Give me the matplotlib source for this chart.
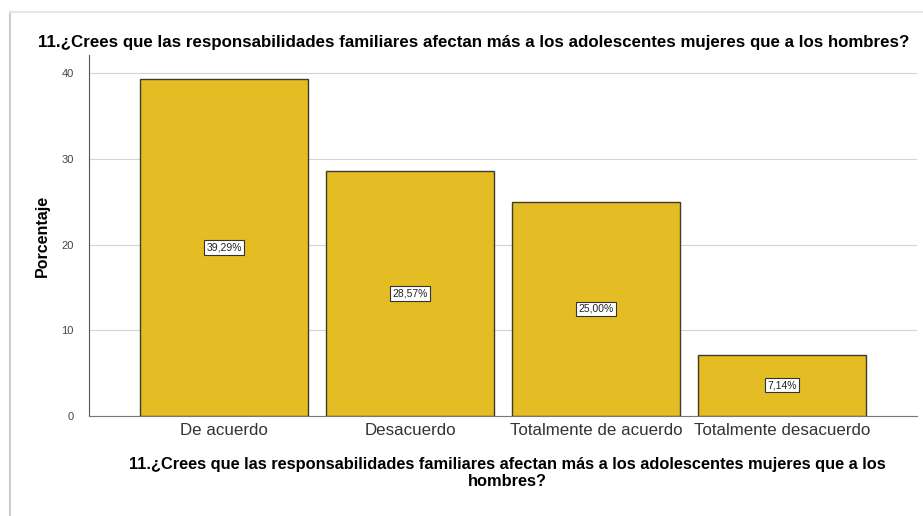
import matplotlib.pyplot as plt
from matplotlib.lines import Line2D

plt.rcParams['font.family'] = ['Liberation Sans', 'DejaVu Sans']

categorias = ["De acuerdo", "Desacuerdo", "Totalmente de acuerdo", "Totalmente desacuerdo"]
porcentajes = [39.29, 28.57, 25.00, 7.14]
etiquetas = ["39,29%", "28,57%", "25,00%", "7,14%"]
pregunta = "11.¿Crees que las responsabilidades familiares afectan más a los adolescentes mujeres que a los hombres?"

fig = plt.figure(figsize=(9.23, 5.16), dpi=100)
ax = fig.add_axes([89 / 923, 1 - 416 / 516, (917 - 89) / 923, (416 - 55) / 516])

x = range(len(categorias))
ax.bar(x, porcentajes, width=0.9, color="#E3BD23", edgecolor="#3f3a2a", linewidth=1, zorder=3)

for i, v in enumerate(porcentajes):
    ax.text(i, v / 2, etiquetas[i], ha="center", va="center", fontsize=7.5, color="#222222", zorder=4,
            bbox=dict(boxstyle="square,pad=0.2", facecolor="white", edgecolor="#333333", linewidth=0.8))

ax.set_xlim(-0.726, 3.726)
ax.set_ylim(0, 42.1)
ax.set_yticks([0, 10, 20, 30, 40])
ax.yaxis.grid(True, color="#d4d4d4", linewidth=0.8, zorder=0)
ax.set_xticks(list(x))
ax.set_xticklabels(categorias, fontsize=12.2, color="#333333")
ax.tick_params(axis="y", labelsize=8, colors="#444444", length=0, pad=11)
ax.tick_params(axis="x", length=0, pad=5)
for s in ["top", "right"]:
    ax.spines[s].set_visible(False)
ax.spines["left"].set_color("#555555")
ax.spines["bottom"].set_color("#777777")

ax.set_ylabel("Porcentaje", fontsize=11.5, fontweight="bold", labelpad=8)
fig.text(38 / 923, 1 - 42 / 516, pregunta, fontsize=12.2, fontweight="bold", ha="left", va="center")
fig.text(507 / 923, 1 - 473 / 516,
         "11.¿Crees que las responsabilidades familiares afectan más a los adolescentes mujeres que a los\nhombres?",
         fontsize=11.8, fontweight="bold", ha="center", va="center", linespacing=1.25)

# marco de la captura
fig.add_artist(Line2D([10 / 923, 10 / 923], [0, 1 - 12 / 516], color="#cccccc", linewidth=1.5))
fig.add_artist(Line2D([10 / 923, 1], [1 - 12 / 516, 1 - 12 / 516], color="#e6e6e6", linewidth=1.5))

fig.savefig("out.png", dpi=100)
